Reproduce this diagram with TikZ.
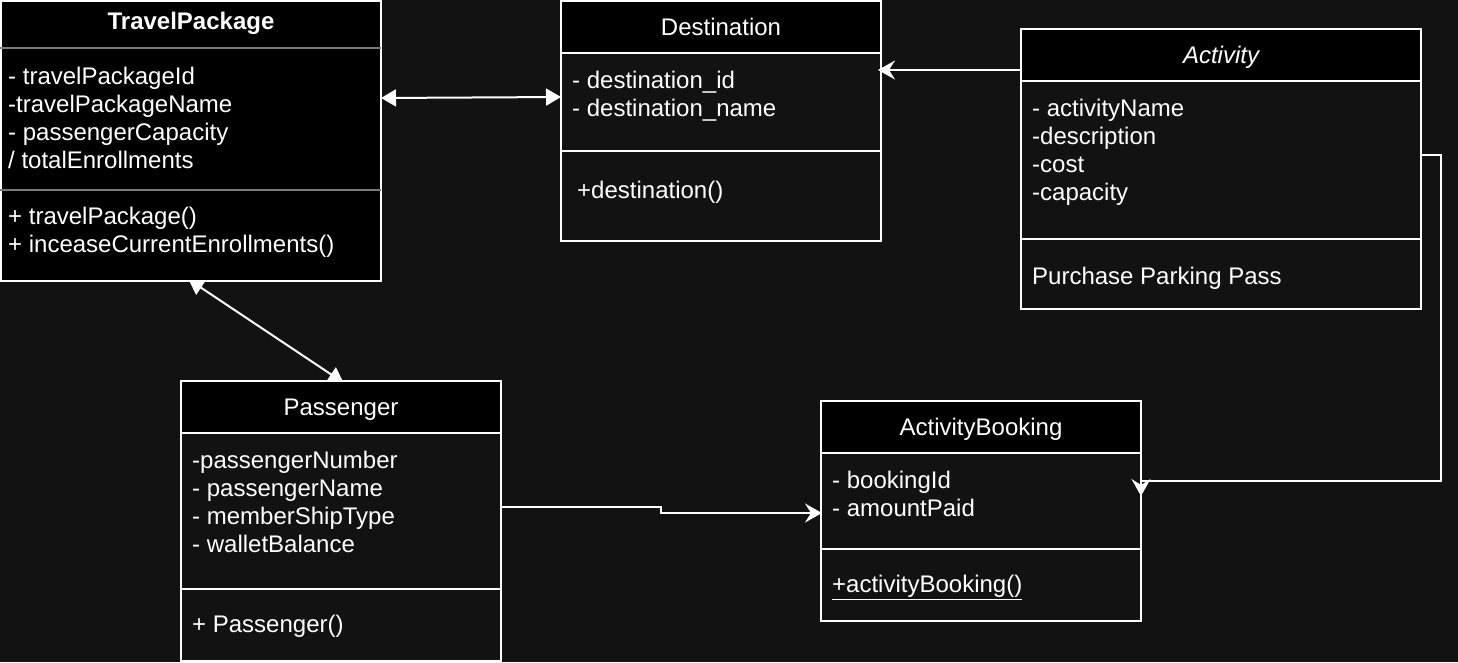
\documentclass[tikz,border=0pt]{standalone}
\usepackage{fontspec}
\setmainfont{Liberation Sans}
\usetikzlibrary{arrows.meta,calc}
\definecolor{bg}{HTML}{121212}
\definecolor{sepgray}{HTML}{7A7A7A}
\pgfdeclarelayer{bgl}
\pgfdeclarelayer{mid}
\pgfsetlayers{bgl,mid,main}
\begin{document}
\begin{tikzpicture}[x=1pt,y=-1pt,
  box/.style={draw=white,line width=2pt,fill=bg,rectangle,inner sep=0pt,outer sep=0pt,anchor=north west},
  hdr/.style={fill=black},
  sepline/.style={draw=white,line width=2pt},
  txt/.style={text=white,inner sep=0pt,font=\fontsize{24}{28}\selectfont,align=left,anchor=north west},
  ttl/.style={text=white,inner sep=0pt,font=\fontsize{24}{28}\selectfont,anchor=base},
  conn/.style={draw=white,line width=2pt},
  dbl/.style={conn,{Triangle[length=15pt,width=17pt]}-{Triangle[length=15pt,width=17pt]}},
  cls/.style={conn,-{Stealth[length=17pt,width=19pt,inset=6pt]}},
]
\begin{pgfonlayer}{bgl}
\fill[bg] (0,0) rectangle (1458,662);
\end{pgfonlayer}
\useasboundingbox (0,0) rectangle (1458,662);

% TravelPackage
\node[box,fill=black,minimum width=380pt,minimum height=280pt] (tp) at (1,1) {};
\draw[sepgray,line width=2pt] ($(tp.north west)+(-1,47)$) -- ($(tp.north east)+(0,47)$);
\draw[sepgray,line width=2pt] ($(tp.north west)+(-1,189)$) -- ($(tp.north east)+(0,189)$);
\node[ttl,font=\bfseries\fontsize{24}{28}\selectfont] (tpt) at (191,29.5) {TravelPackage};
\node[txt] (tpa) at (8,64.6) {\strut- travelPackageId\\-travelPackageName\\- passengerCapacity\\/ totalEnrollments};
\node[txt] (tpm) at (8,204.6) {\strut+ travelPackage()\\+ inceaseCurrentEnrollments()};

% Destination
\node[box,minimum width=320pt,minimum height=240pt] (dest) at (561,1) {};
\fill[hdr] (562,2) rectangle (880,53);
\draw[sepline] (dest.west |- 0,53) -- (dest.east |- 0,53);
\draw[sepline] (dest.west |- 0,151) -- (dest.east |- 0,151);
\node[ttl] (destt) at (721,35.5) {Destination};
\node[txt] (desta) at (572,68.6) {\strut- destination\_id\\- destination\_name};
\node[txt] (destm) at (577,178.6) {\strut+destination()};

% Activity
\node[box,minimum width=400pt,minimum height=280pt] (act) at (1021,29) {};
\fill[hdr] (1022,30) rectangle (1420,81);
\draw[sepline] (act.west |- 0,81) -- (act.east |- 0,81);
\draw[sepline] (act.west |- 0,239) -- (act.east |- 0,239);
\node[ttl,font=\itshape\fontsize{24}{28}\selectfont] (actt) at (1221,63.5) {Activity};
\node[txt] (acta) at (1032,96.6) {\strut- activityName\\-description\\-cost\\-capacity};
\node[txt] (actm) at (1032,264.6) {\strut Purchase Parking Pass};

% Passenger
\node[box,minimum width=320pt,minimum height=280pt] (pass) at (181,381) {};
\fill[hdr] (182,382) rectangle (500,433);
\draw[sepline] (pass.west |- 0,433) -- (pass.east |- 0,433);
\draw[sepline] (pass.west |- 0,589) -- (pass.east |- 0,589);
\node[ttl] (passt) at (341,415.5) {Passenger};
\node[txt] (passa) at (192,448.6) {\strut-passengerNumber\\- passengerName\\- memberShipType\\- walletBalance};
\node[txt] (passm) at (192,612.6) {\strut+ Passenger()};

% ActivityBooking
\node[box,minimum width=320pt,minimum height=220pt] (ab) at (821,401) {};
\fill[hdr] (822,402) rectangle (1140,453);
\draw[sepline] (ab.west |- 0,453) -- (ab.east |- 0,453);
\draw[sepline] (ab.west |- 0,549) -- (ab.east |- 0,549);
\node[ttl] (abt) at (981,435.5) {ActivityBooking};
\node[txt] (aba) at (832,468.6) {\strut- bookingId\\- amountPaid};
\node[txt] (abm) at (832,572.6) {\strut\underline{+activityBooking()}};

% connectors
\draw[dbl] ($(tp.north east)+(0,97)$) -- ($(dest.north west)+(0,96)$);
\draw[cls] ($(act.north west)+(1,41)$) -- ($(dest.north east)+(-3,69)$);
\draw[cls] ($(act.north east)+(0,126)$) -- ++(20,0) |- ($(ab.north east)+(0,80)$) -- ++(0,15);
\draw[cls] ($(pass.north east)+(0,126)$) -- ++(160,0) |- ($(ab.north west)+(1,112)$);
\begin{pgfonlayer}{mid}
\draw[dbl,shorten <=-3pt,shorten >=-3pt] (tp.south) -- (pass.north);
\end{pgfonlayer}
\end{tikzpicture}
\end{document}
